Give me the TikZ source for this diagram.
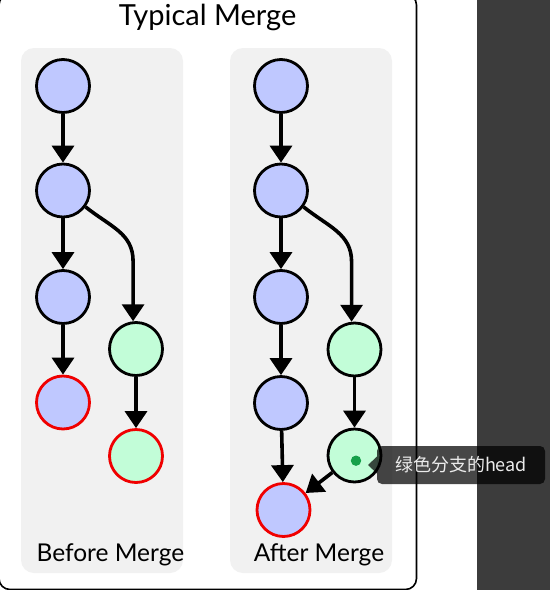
\documentclass[tikz,border=0pt]{standalone}
\usepackage{fontspec}
\setmainfont{Lato}
\newfontfamily\cjkfont{Noto Sans CJK SC}
\usetikzlibrary{arrows.meta,calc}
\definecolor{panelgray}{HTML}{F1F1F1}
\definecolor{blueC}{HTML}{BFC8FF}
\definecolor{greenC}{HTML}{C2FDD8}
\definecolor{redB}{HTML}{F00000}
\definecolor{darkside}{HTML}{3C3C3C}
\definecolor{dotgreen}{HTML}{16A04A}
\tikzset{
  commit/.style={circle, draw=black, line width=2.8pt, minimum size=53pt, inner sep=0pt},
  bluec/.style={commit, fill=blueC},
  greenc/.style={commit, fill=greenC},
  headc/.style={draw=redB},
  arr/.style={line width=3.6pt, -{Triangle[width=22pt,length=17pt]}},
  panel/.style={fill=panelgray, rounded corners=13pt},
  lbl/.style={font=\fontsize{24.5}{28}\selectfont, anchor=base},
}
\begin{document}
\begin{tikzpicture}[x=1pt,y=-1pt]
\useasboundingbox (0,0) rectangle (550,590);
\clip (0,0) rectangle (550,590);
% background areas
\fill[white] (0,0) rectangle (550,590);
\fill[darkside] (477,0) rectangle (550,590);
% outer box
\draw[line width=1.6pt, rounded corners=11pt] (-1,-6) rectangle (416.5,589.5);
% title
\node[font=\fontsize{29}{33}\selectfont, anchor=base] (title) at (207.5,25.6) {Typical Merge};
% panels
\fill[panel] (21,48) rectangle (183,573);
\fill[panel] (230,48) rectangle (392,573);
% before merge
\node[bluec] (L1) at (63,86) {};
\node[bluec] (L2) at (63,190.5) {};
\node[bluec] (L3) at (63,297) {};
\node[bluec, headc] (L4) at (63,402.5) {};
\node[greenc] (LG1) at (136,349) {};
\node[greenc, headc] (LG2) at (136,456) {};
\coordinate (LB) at ($(LG1.96)+(0,-60)$);
\draw[arr] (L1) -- (L2);
\draw[arr] (L2) -- (L3);
\draw[arr] (L3) -- (L4);
\draw[arr] (L2.-36) .. controls +(25,20) and +(0,-28) .. (LB) -- (LG1.96);
\draw[arr] (LG1) -- (LG2);
% after merge
\node[bluec] (R1) at (281,86) {};
\node[bluec] (R2) at (281,190.5) {};
\node[bluec] (R3) at (281,297) {};
\node[bluec] (R4) at (281,403) {};
\node[greenc] (RG1) at (354.5,349.5) {};
\node[greenc] (RG2) at (354.5,455.5) {};
\node[bluec, headc] (RM) at (283.5,510) {};
\coordinate (RB) at ($(RG1.96)+(0,-60)$);
\draw[arr] (R1) -- (R2);
\draw[arr] (R2) -- (R3);
\draw[arr] (R3) -- (R4);
\draw[arr] (R4) -- (RM);
\draw[arr] (R2.-36) .. controls +(25,20) and +(0,-28) .. (RB) -- (RG1.96);
\draw[arr] (RG1) -- (RG2);
\draw[arr] (RG2) -- (RM);
% labels
\node[lbl] (lb1) at (110.4,561.4) {Before Merge};
\node[lbl] (lb2) at (319,561.4) {After Merge};
% green dot (cursor)
\fill[dotgreen] (356,460.7) circle (5.2);
% tooltip
\node[fill=black, fill opacity=0.72, text opacity=1, text=white!92!black, rounded corners=5pt,
      minimum width=168pt, minimum height=38pt, inner sep=0pt,
      font=\cjkfont\fontsize{18}{20}\selectfont] (tip) at (461,465) {绿色分支的head};
\fill[black, opacity=0.72] (368,465) -- (377,456.5) -- (377,473.5) -- cycle;
\end{tikzpicture}
\end{document}
